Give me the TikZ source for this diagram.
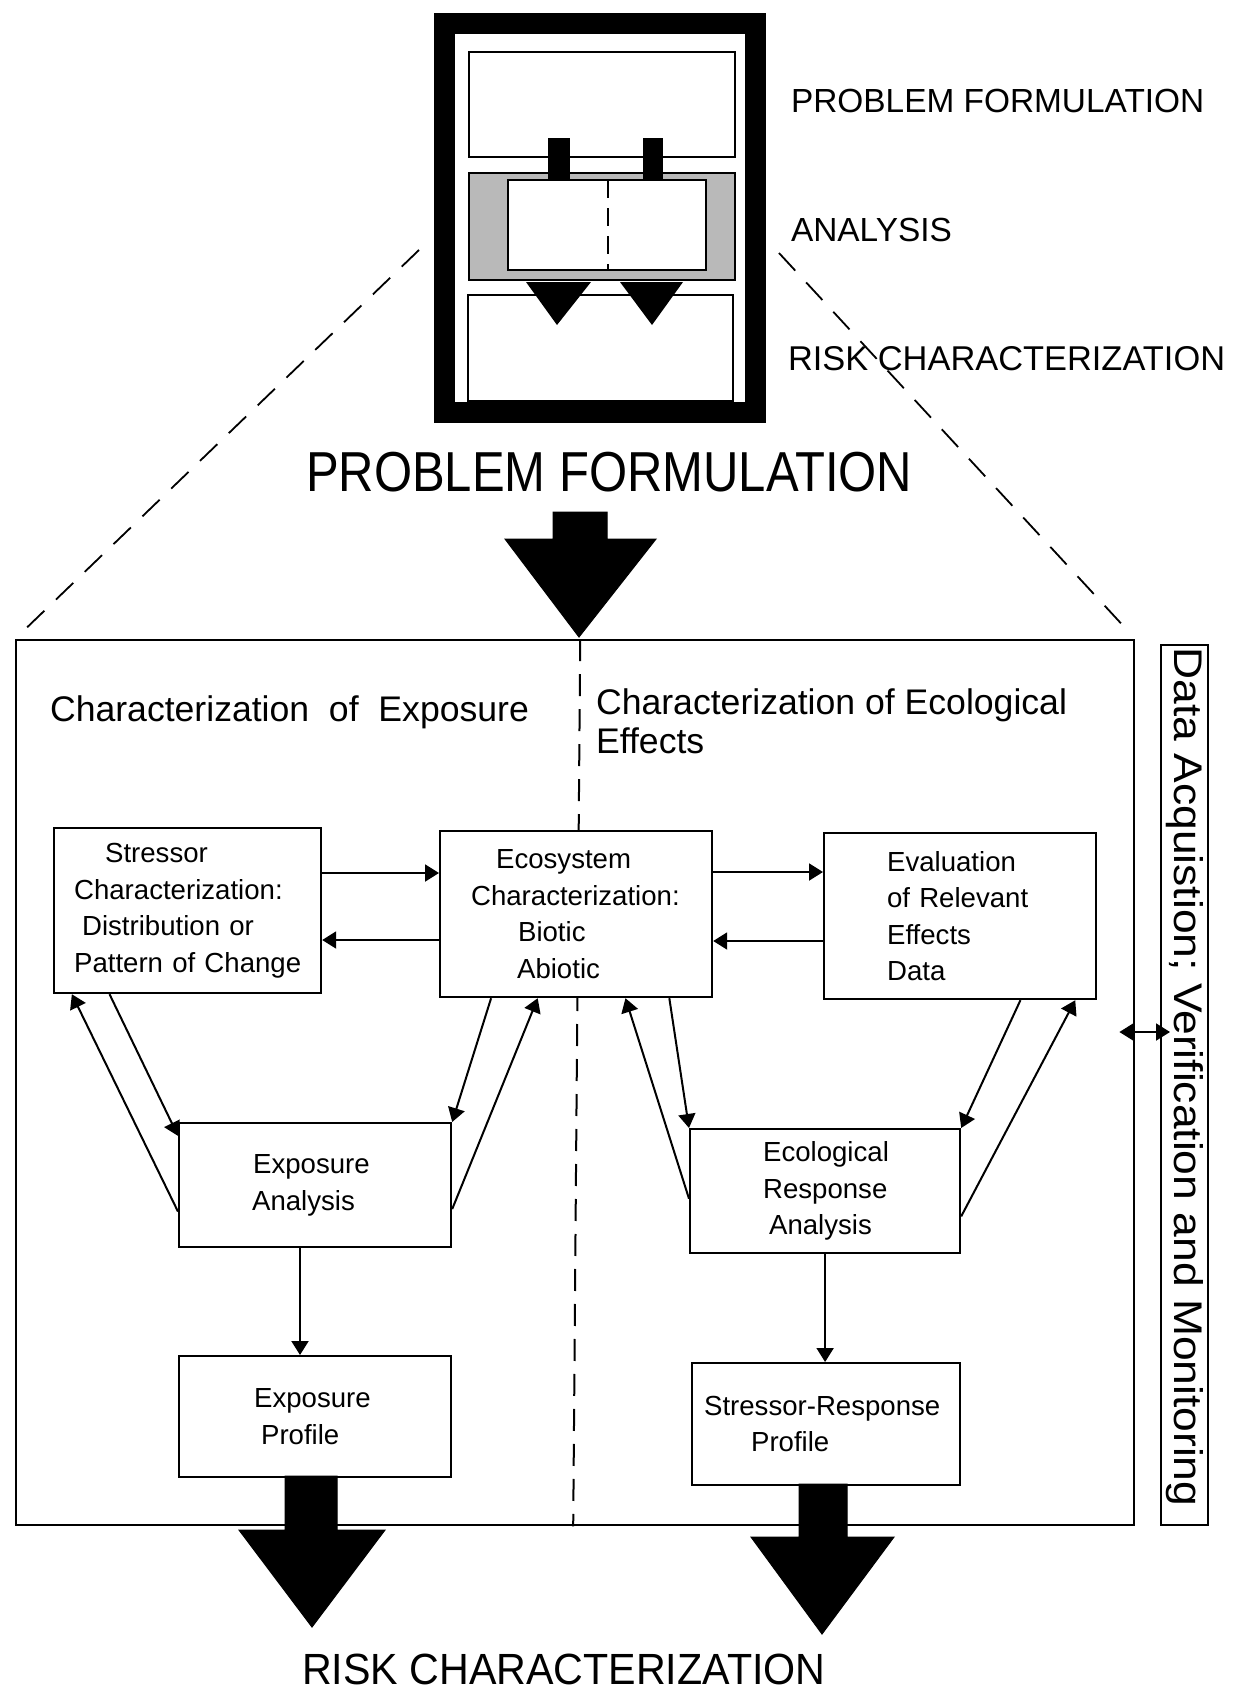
\documentclass[tikz,border=0pt]{standalone}
\usepackage{fontspec}
\setmainfont{Liberation Sans}
\usetikzlibrary{arrows.meta,calc}
\newdimen\pxu \pxu=0.5pt

\tikzset{
  box/.style={draw, line width=1.1pt, fill=white, inner xsep=0pt, inner ysep=0pt,
    align=left, anchor=north west, font=\fontsize{13.8}{18.3}\selectfont},
  link/.style={line width=1pt, -{Triangle[length=7pt,width=8.5pt]}},
  twoway/.style={line width=1pt, {Triangle[length=7pt,width=8.5pt]}-{Triangle[length=7pt,width=8.5pt]}},
  splitline/.style={line width=1pt, dash pattern=on 11pt off 6.5pt},
  zoomline/.style={line width=0.9pt, dash pattern=on 12pt off 8pt},
  heading/.style={anchor=base west, font=\fontsize{17.8}{19.5}\selectfont},
  phase/.style={anchor=base west, font=\fontsize{16.7}{20}\selectfont},
  blockarrow/.style={fill=black, draw=black, line width=0.5pt},
}

\begin{document}
\begin{tikzpicture}[x=0.5pt, y=-0.5pt]
\useasboundingbox (0,0) rectangle (1247,1692);

% ---------- small framework icon ----------
\draw[line width=10.5pt] (444,23) rectangle (755,412.5);
\draw[line width=1.1pt] (469,52) rectangle (735,157);
\draw[line width=1.1pt, fill=gray!55] (469,173) rectangle (735,280);
\draw[line width=1.1pt, fill=white] (508,180) rectangle (706,270);
\draw[line width=1pt, dash pattern=on 9pt off 5pt] (608,180) -- (608,270);
\draw[line width=1.1pt] (468,295) rectangle (733,401);
\fill (548,138) rectangle (570,180);
\fill (643,138) rectangle (663,180);
\fill (526,282) -- (591,282) -- (557,325) -- cycle;
\fill (620,282) -- (683,282) -- (652,325) -- cycle;

% phase labels beside the icon
\node[phase] (lpf) at (784,112) {PROBLEM FORMULATION};
\node[phase] (lan) at (784,241) {ANALYSIS};
\node[phase, font=\fontsize{17.2}{20}\selectfont] (lrc) at (781,370) {RISK CHARACTERIZATION};

% ---------- problem formulation ----------
\node[anchor=base west, font=\fontsize{24.5}{28}\selectfont] (pf) at (299,491)
  {\scalebox{1}[1.15]{PROBLEM FORMULATION}};
\draw[blockarrow] (553,512) -- (607,512) -- (607,539) -- (656,539) -- (579,637)
  -- (505,539) -- (553,539) -- cycle;

% ---------- analysis frame ----------
\node[draw, line width=1.2pt, minimum width=1118\pxu, minimum height=885\pxu,
  anchor=north west, inner sep=0pt] (mainbox) at (15,639) {};
\node[draw, line width=1.1pt, minimum width=47\pxu, minimum height=880\pxu,
  anchor=north west, inner sep=0pt] (sidebar) at (1160,644) {};
\node[rotate=-90, font=\fontsize{20}{24}\selectfont] (sidetext) at (1185,1077)
  {\scalebox{1.11}[1]{Data Acquistion; Verification and Monitoring}};

% zoom lines from the icon to the frame
\coordinate (iconL) at (419,250);
\coordinate (iconR) at (779,253);
\draw[zoomline, shorten >=12\pxu] (iconL) -- (mainbox.north west);
\draw[zoomline, shorten >=10\pxu] (iconR) -- (mainbox.north east);

% exposure / effects split
\draw[splitline] ($(mainbox.north)+(5,0)$) -- ($(mainbox.south)+(-2,0)$);

\node[heading] (hexp) at (43,721) {Characterization\ \ of\ \ Exposure};
\node[heading, align=left] (heco) at (589,753) {Characterization of Ecological\\Effects};

% ---------- boxes ----------
\node[box, text width=267\pxu, minimum height=165\pxu] (stressor) at (53,827)
  {\hspace*{51\pxu}Stressor\\\hspace*{20\pxu}Characterization:\\\hspace*{28\pxu}Distribution or\\\hspace*{20\pxu}Pattern of Change};
\node[box, text width=272\pxu, minimum height=166\pxu] (ecosys) at (439,830)
  {\hspace*{56\pxu}Ecosystem\\\hspace*{31\pxu}Characterization:\\\hspace*{78\pxu}Biotic\\\hspace*{77\pxu}Abiotic};
\node[box, text width=272\pxu, minimum height=166\pxu] (evalu) at (823,832)
  {\hspace*{63\pxu}Evaluation\\\hspace*{63\pxu}of Relevant\\\hspace*{63\pxu}Effects\\\hspace*{63\pxu}Data};
\node[box, text width=272\pxu, minimum height=124\pxu] (expan) at (178,1122)
  {\hspace*{74\pxu}Exposure\\\hspace*{73\pxu}Analysis};
\node[box, text width=270\pxu, minimum height=124\pxu] (ecoresp) at (689,1128)
  {\hspace*{73\pxu}Ecological\\\hspace*{73\pxu}Response\\\hspace*{79\pxu}Analysis};
\node[box, text width=272\pxu, minimum height=121\pxu] (expprof) at (178,1355)
  {\hspace*{75\pxu}Exposure\\\hspace*{82\pxu}Profile};
\node[box, text width=268\pxu, minimum height=122\pxu] (srprof) at (691,1362)
  {\hspace*{12\pxu}Stressor-Response\\\hspace*{59\pxu}Profile};

% ---------- connectors ----------
\coordinate (hA) at (0,873);
\coordinate (hB) at (0,940);
\coordinate (hC) at (0,872);
\coordinate (hD) at (0,941);
\draw[link] (stressor.east |- hA) -- (ecosys.west |- hA);
\draw[link] (ecosys.west |- hB) -- (stressor.east |- hB);
\draw[link] (ecosys.east |- hC) -- (evalu.west |- hC);
\draw[link] (evalu.west |- hD) -- (ecosys.east |- hD);

\draw[link] ($(stressor.south west)!0.21!(stressor.south east)$) -- ($(expan.north west)!0.11!(expan.south west)$);
\draw[link] ($(expan.north west)!0.71!(expan.south west)$) -- ($(stressor.south west)!0.07!(stressor.south east)$);
\draw[link] ($(ecosys.south west)!0.19!(ecosys.south east)$) -- (expan.north east);
\draw[link] ($(expan.north east)!0.69!(expan.south east)$) -- ($(ecosys.south west)!0.36!(ecosys.south east)$);
\draw[link] ($(ecoresp.north west)!0.56!(ecoresp.south west)$) -- ($(ecosys.south west)!0.68!(ecosys.south east)$);
\draw[link] ($(ecosys.south west)!0.84!(ecosys.south east)$) -- (ecoresp.north west);
\draw[link] ($(evalu.south west)!0.72!(evalu.south east)$) -- (ecoresp.north east);
\draw[link] ($(ecoresp.north east)!0.70!(ecoresp.south east)$) -- ($(evalu.south west)!0.92!(evalu.south east)$);

\coordinate (vx) at (300,0);
\draw[link] (expan.south -| vx) -- (expprof.north -| vx);
\draw[link] (ecoresp.south) -- (srprof.north -| ecoresp.south);

\coordinate (dy) at (0,1032);
\draw[twoway] ($(mainbox.east |- dy)+(-16,0)$) -- ($(sidebar.west |- dy)+(10,0)$);

% ---------- risk characterization ----------
\draw[blockarrow] (285,1476) -- (337,1476) -- (337,1530) -- (385,1530) -- (312,1627)
  -- (239,1530) -- (285,1530) -- cycle;
\draw[blockarrow] (799,1484) -- (847,1484) -- (847,1537) -- (894,1537) -- (822,1634)
  -- (751,1537) -- (799,1537) -- cycle;
\node[anchor=base west, font=\fontsize{20.6}{24}\selectfont] (rc) at (295,1684)
  {\scalebox{1}[1.06]{RISK CHARACTERIZATION}};

\end{tikzpicture}
\end{document}
